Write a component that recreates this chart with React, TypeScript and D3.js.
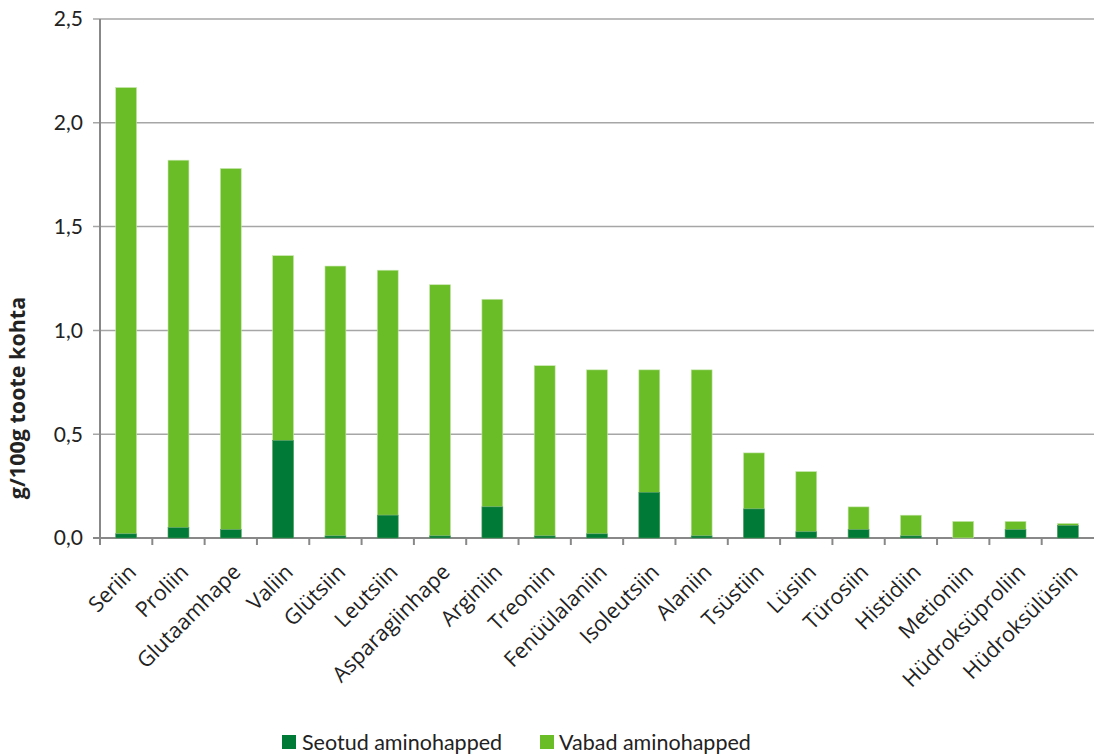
import React from 'react';
import * as d3 from 'd3';

const categories = [
  'Seriin', 'Proliin', 'Glutaamhape', 'Valiin', 'Glütsiin', 'Leutsiin', 'Asparagiinhape',
  'Arginiin', 'Treoniin', 'Fenüülalaniin', 'Isoleutsiin', 'Alaniin', 'Tsüstiin', 'Lüsiin',
  'Türosiin', 'Histidiin', 'Metioniin', 'Hüdroksüproliin', 'Hüdroksülüsiin',
];
const seotud = [0.02, 0.05, 0.04, 0.47, 0.01, 0.11, 0.01, 0.15, 0.01, 0.02, 0.22, 0.01, 0.14, 0.03, 0.04, 0.01, 0.0, 0.04, 0.06];
const vabad = [2.15, 1.77, 1.74, 0.89, 1.30, 1.18, 1.21, 1.00, 0.82, 0.79, 0.59, 0.80, 0.27, 0.29, 0.11, 0.10, 0.08, 0.04, 0.01];
const yTicks = [0, 0.5, 1.0, 1.5, 2.0, 2.5];

const DARK = '#007A37';
const LIGHT = '#6BBD28';
const FONT = 'Lato, "Open Sans", sans-serif';

export default function App() {
  const width = 1094;
  const height = 755;
  const left = 100;
  const right = 1094;
  const top = 19;
  const bottom = 538;

  const x = d3.scaleBand<string>().domain(categories).range([left, right]).paddingInner(0.6).paddingOuter(0.3);
  const y = d3.scaleLinear().domain([0, 2.5]).range([bottom, top]);
  const step = x.step();
  const fmt = (v: number) => v.toFixed(1).replace('.', ',');

  return (
    <svg width={width} height={height} style={{ position: 'absolute', left: 0, top: 0, fontFamily: FONT }}>
      {yTicks.map((t) => (
        <g key={t}>
          <line x1={left - 7} x2={right} y1={y(t)} y2={y(t)} stroke={t === 0 ? '#888' : '#a6a6a6'} strokeWidth={t === 0 ? 2 : 1.5} />
          <text x={83} y={y(t)} dy="0.35em" textAnchor="end" fontSize={21} fill="#222">{fmt(t)}</text>
        </g>
      ))}
      <line x1={left} x2={left} y1={top} y2={bottom} stroke="#888" strokeWidth={2} />
      {categories.map((c, i) => (
        <line key={'t' + i} x1={left + i * step} x2={left + i * step} y1={bottom} y2={bottom + 7} stroke="#888" strokeWidth={2} />
      ))}
      {categories.map((c, i) => {
        const bx = x(c)!;
        const bw = x.bandwidth();
        const y0 = y(seotud[i]);
        const y1 = y(seotud[i] + vabad[i]);
        return (
          <g key={c}>
            <rect x={bx} width={bw} y={y1} height={y0 - y1} fill={LIGHT} stroke="#c8e6b0" strokeWidth={0.6} />
            {seotud[i] > 0 && (
              <rect x={bx} width={bw} y={y0} height={bottom - y0} fill={DARK} stroke="#4f9a5a" strokeWidth={0.6} />
            )}
          </g>
        );
      })}
      {categories.map((c, i) => {
        const cx = x(c)! + x.bandwidth() / 2 + 6;
        return (
          <text key={'l' + c} transform={`translate(${cx},${bottom + 30}) rotate(-45)`} textAnchor="end" dy="0.35em" fontSize={21.5} fill="#222" fontFamily='"Open Sans", sans-serif'>
            {c}
          </text>
        );
      })}
      <text transform={`translate(25,398) rotate(-90)`} textAnchor="middle" fontSize={21.5} fontWeight="bold" fill="#222" fontFamily='"Open Sans", sans-serif'>
        g/100g toote kohta
      </text>
      <rect x={282} y={735} width={14} height={14} fill={DARK} />
      <text x={302} y={742} dy="0.35em" fontSize={21.5} fill="#222">Seotud aminohapped</text>
      <rect x={540} y={735} width={14} height={14} fill={LIGHT} />
      <text x={559} y={742} dy="0.35em" fontSize={21.5} fill="#222">Vabad aminohapped</text>
    </svg>
  );
}
